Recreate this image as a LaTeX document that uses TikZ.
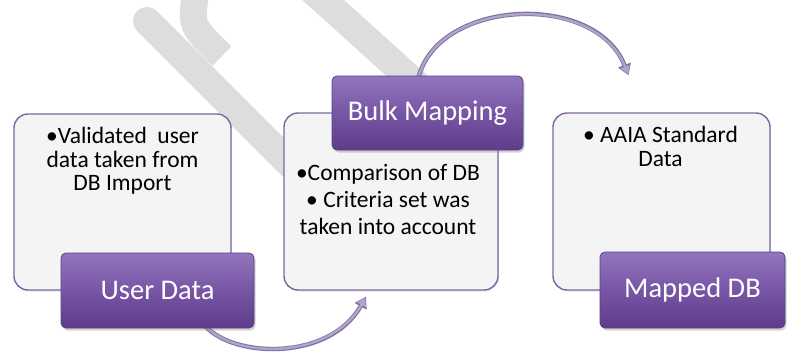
\documentclass[tikz,border=0pt]{standalone}
\usepackage{fontspec}
\setmainfont{Carlito}
\usetikzlibrary{shadows,arrows.meta,calc}

\definecolor{wmgrey}{HTML}{DDDDDD}
\definecolor{boxfill}{HTML}{F4F4F4}
\definecolor{boxline}{HTML}{8064A2}
\definecolor{ptop}{HTML}{9275BD}
\definecolor{pmid}{HTML}{7756A5}
\definecolor{pbot}{HTML}{5E3C8A}
\definecolor{pline}{HTML}{5A3F86}
\definecolor{arrfill}{HTML}{B0A4CB}
\definecolor{arrline}{HTML}{7F6F9F}

\pgfdeclarelayer{wm}
\pgfdeclarelayer{arr}
\pgfsetlayers{wm,arr,main}

\begin{document}
\begin{tikzpicture}[x=1pt,y=-1pt,
  wmstroke/.style={draw=wmgrey, line width=28pt},
  infobox/.style={draw=boxline, line width=1.4pt, fill=boxfill, rounded corners=14pt,
    drop shadow={opacity=0.2, shadow xshift=1pt, shadow yshift=-1.5pt}},
  titlebox/.style={draw=pline, line width=0.8pt, top color=ptop, bottom color=pbot, middle color=pmid,
    rounded corners=5pt, text=white, font=\fontsize{28.5}{32}\selectfont,
    drop shadow={opacity=0.35, shadow xshift=1.5pt, shadow yshift=-2.5pt}},
  bodytext/.style={align=center, inner sep=0pt, anchor=north},
  arrout/.style={draw=arrline, line width=4.4pt, -{Triangle[length=11pt,width=13pt]}},
  arrin/.style={draw=arrfill, line width=2.4pt, shorten >=1.3pt, -{Triangle[length=8pt,width=9.5pt]}}
]
\useasboundingbox (0,0) rectangle (788,356);

% watermark
\begin{pgfonlayer}{wm}
  \draw[wmstroke, line cap=round] (147,21) -- (330,204);
  \draw[wmstroke, line width=27pt] (197,-12) .. controls (190,25) .. (222,56);
  \draw[wmstroke] (301,-20) -- (445,110);
\end{pgfonlayer}

% content boxes
\node[infobox, minimum width=217pt, minimum height=176pt] (b1) at (122.5,202) {};
\node[infobox, minimum width=214pt, minimum height=177pt] (b2) at (391,201.5) {};
\node[infobox, minimum width=217pt, minimum height=177pt] (b3) at (661.5,201.5) {};

\node[bodytext, font=\fontsize{23.5}{23.5}\selectfont] (t1) at ($(b1.north)+(0,14)$) {•Validated\ \ user\\data taken from\\DB Import};
\node[bodytext, font=\fontsize{23.5}{27}\selectfont] (t2) at ($(b2.north)+(-3,52)$) {•Comparison of DB\\• Criteria set was\\taken into account};
\node[bodytext, font=\fontsize{23.5}{24}\selectfont] (t3) at ($(b3.north)+(-1,14)$) {• AAIA Standard\\Data};

% title boxes
\node[titlebox, minimum width=193pt, minimum height=75pt] (ud) at (157.5,290.5) {User Data};
\node[titlebox, minimum width=191pt, minimum height=74pt] (bm) at (427.5,113) {Bulk Mapping};
\node[titlebox, minimum width=185pt, minimum height=76pt] (md) at (692.5,290) {Mapped DB};

% connectors
\coordinate (a1s) at ($(ud.south)+(48,-2)$);
\coordinate (a1e) at ($(b2.south)+(-25,6)$);
\coordinate (a2s) at ($(bm.north)+(-9,2)$);
\coordinate (a2e) at ($(b3.north)+(-33,-37)$);
\begin{pgfonlayer}{arr}
  \draw[arrout] (a1s) .. controls +(30,32) and +(-36,64) .. (a1e);
  \draw[arrin]  (a1s) .. controls +(30,32) and +(-36,64) .. (a1e);
  \draw[arrout] (a2s) .. controls +(20,-79) and +(-33,-84) .. (a2e);
  \draw[arrin]  (a2s) .. controls +(20,-79) and +(-33,-84) .. (a2e);
\end{pgfonlayer}
\end{tikzpicture}
\end{document}
